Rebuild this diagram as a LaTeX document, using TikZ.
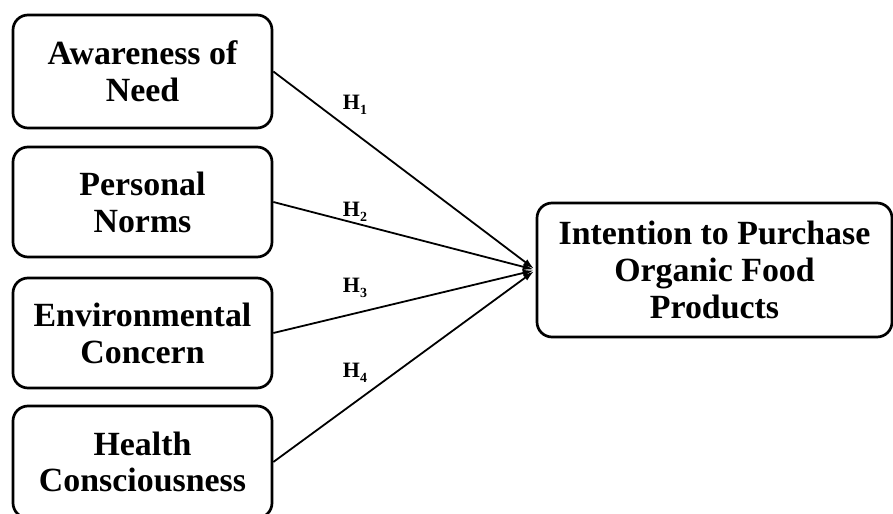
\documentclass[tikz,border=0pt]{standalone}
\usepackage{fontspec}
\setmainfont{Liberation Serif}
\usetikzlibrary{arrows.meta}
\begin{document}
\begin{tikzpicture}[>={Latex[length=11bp,width=7bp]},line join=bevel,
  factor/.style={draw,line width=2.7bp,rounded corners=15bp,align=center,inner sep=0pt,
    minimum width=259bp,font=\bfseries\fontsize{34}{37}\selectfont},
  hyp/.style={draw=none,inner sep=0pt,font=\bfseries\fontsize{22}{22}\selectfont},
  path/.style={black,line width=1.8bp,->,shorten >=2bp}]
\useasboundingbox (0bp,0bp) rectangle (893bp,514bp);
%%
\node (awareness) at (142.5bp,442.5bp) [factor,minimum height=113bp] {Awareness of\\Need};
  \node (norms) at (142.5bp,312bp) [factor,minimum height=110bp] {Personal\\Norms};
  \node (concern) at (142.5bp,181bp) [factor,minimum height=110bp] {Environmental\\Concern};
  \node (health) at (142.5bp,52bp) [factor,minimum height=112bp] {Health\\Consciousness};
  \node (intention) at (714.5bp,244bp) [factor,minimum width=355bp,minimum height=134bp] {Intention to Purchase\\Organic Food\\Products};
  \node (h1) at (355bp,409bp) [hyp] {H\raisebox{-0.45ex}{\fontsize{14}{14}\selectfont 1}};
  \node (h2) at (355bp,302bp) [hyp] {H\raisebox{-0.45ex}{\fontsize{14}{14}\selectfont 2}};
  \node (h3) at (355bp,226bp) [hyp] {H\raisebox{-0.45ex}{\fontsize{14}{14}\selectfont 3}};
  \node (h4) at (355bp,141bp) [hyp] {H\raisebox{-0.45ex}{\fontsize{14}{14}\selectfont 4}};
  \draw [path] (awareness.east) -- (intention.west);
  \draw [path] (norms.east) -- (intention.west);
  \draw [path] (concern.east) -- (intention.west);
  \draw [path] (health.east) -- (intention.west);
%
\end{tikzpicture}
\end{document}
